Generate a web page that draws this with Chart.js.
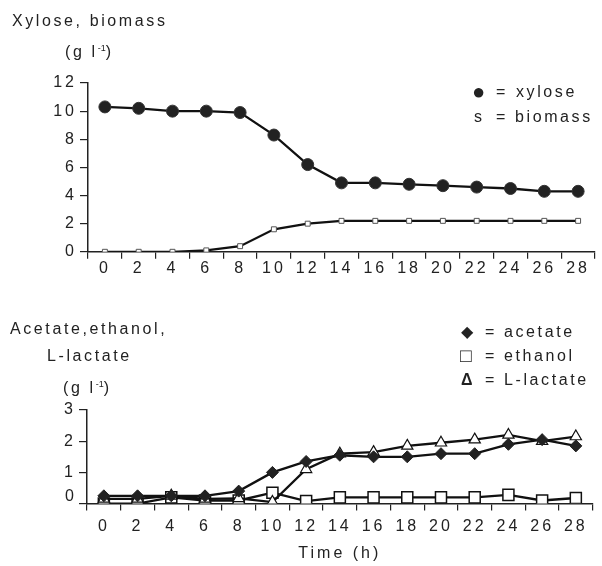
<!DOCTYPE html>
<html>
<head>
<meta charset="utf-8">
<script src="https://cdn.jsdelivr.net/npm/chart.js@4.4.1/dist/chart.umd.min.js"></script>
<style>
    body { margin: 0; background: #fff; }
    #wrap {
        position: relative; width: 602px; height: 566px; overflow: hidden;
        font-family: "Liberation Sans", Arial, sans-serif; font-size: 16px;
        color: #222; letter-spacing: 2.6px;
    }
    canvas { position: absolute; left: 0; }
    .t { position: absolute; white-space: nowrap; line-height: 16px; }
    .t sup { font-size: 9px; vertical-align: 6px; letter-spacing: 0; }
</style>
</head>
<body>
<div id="wrap">
    <canvas id="top" width="602" height="290" style="top:0"></canvas>
    <canvas id="bottom" width="602" height="276" style="top:290px"></canvas>

    <div class="t" style="left:12px;top:13px">Xylose, biomass</div>
    <div class="t" style="left:65px;top:40px">(g l<sup>-1</sup>)</div>
    <div class="t" style="left:472px;top:84px;font-size:22px;letter-spacing:0">●</div>
    <div class="t" style="left:496px;top:84px">=</div>
    <div class="t" style="left:516px;top:84px">xylose</div>
    <div class="t" style="left:474px;top:109px">s</div>
    <div class="t" style="left:496px;top:109px">= biomass</div>

    <div class="t" style="left:10px;top:321px">Acetate,ethanol,</div>
    <div class="t" style="left:47px;top:348px">L-lactate</div>
    <div class="t" style="left:63px;top:376px">(g l<sup>-1</sup>)</div>
    <div class="t" style="left:461px;top:324px">◆</div>
    <div class="t" style="left:485px;top:324px">= acetate</div>
    <div class="t" style="left:460px;top:348px;font-size:19px;font-weight:bold;letter-spacing:0">□</div>
    <div class="t" style="left:485px;top:348px">= ethanol</div>
    <div class="t" style="left:461px;top:372px;font-weight:bold">Δ</div>
    <div class="t" style="left:485px;top:372px">= L-lactate</div>
    <!-- the zero label of the lower axis sits above its tick in the original -->
    <div class="t" style="left:65px;top:488px">0</div>
</div>

<script>
    "use strict";

    // Data
    var hours = ["0", "2", "4", "6", "8", "10", "12", "14", "16", "18", "20", "22", "24", "26", "28"];
    var xylose  = [10.3, 10.2, 10.0, 10.0, 9.9, 8.3, 6.2, 4.9, 4.9, 4.8, 4.7, 4.6, 4.5, 4.3, 4.3];
    var biomass = [0, 0, 0, 0.1, 0.4, 1.6, 2.0, 2.2, 2.2, 2.2, 2.2, 2.2, 2.2, 2.2, 2.2];
    var acetate = [0.25, 0.25, 0.25, 0.25, 0.4, 1.0, 1.35, 1.55, 1.5, 1.5, 1.6, 1.6, 1.9, 2.05, 1.85];
    var ethanol = [0, 0, 0.2, 0.1, 0.1, 0.35, 0.08, 0.2, 0.2, 0.2, 0.2, 0.2, 0.28, 0.1, 0.18];
    var lactate = [0.15, 0.15, 0.25, 0.15, 0.17, 0.05, 1.1, 1.6, 1.65, 1.85, 1.95, 2.05, 2.2, 2.0, 2.15];

    var ink = "#222";
    var tickFont = { family: "'Liberation Sans', Arial, sans-serif", size: 16 };

    // canvas letter spacing (reset by resize, so set it again before layout and draw)
    var spacing = {
        id: "spacing",
        beforeUpdate: function (chart) { chart.ctx.letterSpacing = "3px"; },
        beforeDraw: function (chart) { chart.ctx.letterSpacing = "3px"; }
    };

    function xAxis(pad, title) {
        return {
            type: "category",
            offset: true,
            grid: { offset: true, drawOnChartArea: false, tickLength: 7, color: ink, lineWidth: 1.2 },
            border: { color: ink, width: 1.5 },
            ticks: { color: ink, font: tickFont, padding: pad, maxRotation: 0, autoSkip: false },
            title: title
        };
    }

    function yAxis(max, step, width, hideZero) {
        return {
            min: 0, max: max,
            grid: { drawOnChartArea: false, tickLength: 8, color: ink, lineWidth: 1.2 },
            border: { color: ink, width: 1.5 },
            ticks: {
                stepSize: step, color: ink, font: tickFont, padding: 3,
                callback: function (v) { return (hideZero && v === 0) ? "" : v; }
            },
            afterFit: function (scale) { scale.width = width; }
        };
    }

    function line(data, style, radius, fill, border, bw, order) {
        return {
            data: data,
            borderColor: "#111",
            borderWidth: 2.3,
            tension: 0,
            pointStyle: style,
            pointRadius: radius,
            pointBackgroundColor: fill,
            pointBorderColor: border,
            pointBorderWidth: bw,
            order: order
        };
    }

    var common = {
        responsive: false,
        animation: false,
        events: [],
        plugins: { legend: { display: false }, tooltip: { enabled: false } }
    };

    // Xylose, biomass
    new Chart(document.getElementById("top"), {
        type: "line",
        data: {
            labels: hours,
            datasets: [
                line(xylose, "circle", 6, "#222", "#333", 1, 1),
                line(biomass, "rect", 3.5, "#fff", "#555", 1, 2)
            ]
        },
        options: Object.assign({}, common, {
            layout: { padding: { top: 83, right: 5, bottom: 12, left: 0 } },
            scales: {
                x: xAxis(0, { display: false }),
                y: yAxis(12, 2, 88, false)
            }
        }),
        plugins: [spacing]
    });

    // Acetate, ethanol, L-lactate
    new Chart(document.getElementById("bottom"), {
        type: "line",
        data: {
            labels: hours,
            datasets: [
                line(acetate, "rectRot", 6, "#222", "#222", 1, 1),
                line(ethanol, "rect", 7.8, "#fff", "#111", 1.5, 3),
                line(lactate, "triangle", 6.5, "#fff", "#111", 1.2, 2)
            ]
        },
        options: Object.assign({}, common, {
            layout: { padding: { top: 120, right: 4, bottom: 0, left: 0 } },
            scales: {
                x: xAxis(6, {
                    display: true, text: "Time (h)", color: ink,
                    font: tickFont, padding: { top: 2, bottom: 3 }
                }),
                y: yAxis(3, 1, 87, true)
            }
        }),
        plugins: [spacing]
    });
</script>
</body>
</html>
